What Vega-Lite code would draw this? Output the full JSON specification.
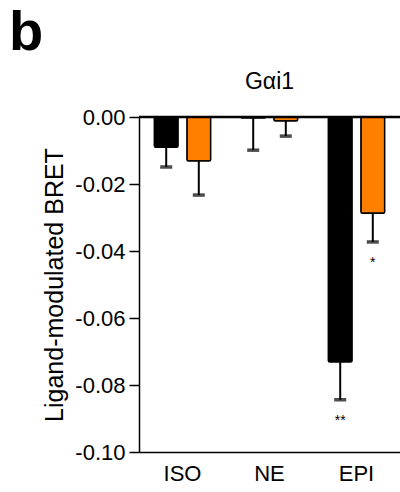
{
  "$schema": "https://vega.github.io/schema/vega-lite/v6.json",
  "background": "white",
  "padding": {"left": 9, "top": 5, "right": 0, "bottom": 0},
  "title": {"text": "b", "anchor": "start", "frame": "group", "fontSize": 56, "font": "Liberation Sans", "fontWeight": "bold", "color": "black", "offset": 9, "dx": -130},
  "config": {"view": {"stroke": null}, "font": "Liberation Sans", "concat": {"spacing": 0}},
  "vconcat": [
    {
      "width": 261,
      "height": 335,
      "title": {"text": "Gαi1", "fontSize": 23, "fontWeight": "normal", "font": "Liberation Sans", "color": "black", "offset": 12, "anchor": "middle"},
      "data": {"values": [
        {"group": "ISO", "series": "A", "value": -0.009, "err": -0.0149, "sig": ""},
        {"group": "ISO", "series": "B", "value": -0.0131, "err": -0.0233, "sig": ""},
        {"group": "NE", "series": "A", "value": -0.0003, "err": -0.0099, "sig": ""},
        {"group": "NE", "series": "B", "value": -0.0012, "err": -0.0057, "sig": ""},
        {"group": "EPI", "series": "A", "value": -0.0731, "err": -0.0844, "sig": "**"},
        {"group": "EPI", "series": "B", "value": -0.0287, "err": -0.0373, "sig": "*"}
      ]},
      "layer": [
        {
          "mark": {"type": "rule", "color": "black", "strokeWidth": 2},
          "encoding": {
            "x": {"field": "group", "type": "nominal", "sort": ["ISO", "NE", "EPI"], "scale": {"paddingInner": 0, "paddingOuter": 0},
              "axis": {"title": null, "labelAngle": 0, "labelFontSize": 22, "labelColor": "black", "labelPadding": 11, "ticks": false, "domainColor": "black", "domainWidth": 1.5, "labelFont": "Liberation Sans"}},
            "xOffset": {"field": "series", "type": "nominal", "sort": ["A", "B"], "scale": {"paddingInner": 0.27, "paddingOuter": 0.47}},
            "y": {"field": "value", "type": "quantitative", "scale": {"domain": [-0.1, 0], "nice": false, "zero": false},
              "axis": {"title": "Ligand-modulated BRET", "titleFontSize": 25, "titleFontWeight": "normal", "titleColor": "black", "titlePadding": 7, "titleFont": "Liberation Sans",
                "values": [0, -0.02, -0.04, -0.06, -0.08, -0.1], "labelExpr": "replace(format(datum.value, '.2f'), '\u2212', '-')",
                "labelFontSize": 22, "labelColor": "black", "labelPadding": 4, "labelFont": "Liberation Sans", "tickSize": 10, "tickWidth": 1.5, "tickColor": "black", "domainColor": "black", "domainWidth": 1.5, "grid": false}},
            "y2": {"field": "err"}
          }
        },
        {
          "mark": {"type": "bar", "stroke": "black", "strokeWidth": 1.5, "cornerRadius": 1.5},
          "encoding": {
            "x": {"field": "group", "type": "nominal", "sort": ["ISO", "NE", "EPI"]},
            "xOffset": {"field": "series", "type": "nominal", "sort": ["A", "B"]},
            "y": {"field": "value", "type": "quantitative"},
            "color": {"field": "series", "type": "nominal", "scale": {"domain": ["A", "B"], "range": ["#000000", "#FF8000"]}, "legend": null}
          }
        },
        {
          "mark": {"type": "tick", "color": "black", "size": 12, "thickness": 3.5, "orient": "horizontal"},
          "encoding": {
            "x": {"field": "group", "type": "nominal", "sort": ["ISO", "NE", "EPI"]},
            "xOffset": {"field": "series", "type": "nominal", "sort": ["A", "B"]},
            "y": {"field": "err", "type": "quantitative"}
          }
        },
        {
          "mark": {"type": "text", "color": "black", "fontSize": 14, "dy": 21, "baseline": "middle", "font": "Liberation Sans"},
          "encoding": {
            "x": {"field": "group", "type": "nominal", "sort": ["ISO", "NE", "EPI"]},
            "xOffset": {"field": "series", "type": "nominal", "sort": ["A", "B"]},
            "y": {"field": "err", "type": "quantitative"},
            "text": {"field": "sig"}
          }
        },
        {
          "data": {"values": [{"z": 0}]},
          "mark": {"type": "rule", "color": "black", "strokeWidth": 2.5},
          "encoding": {"y": {"field": "z", "type": "quantitative"}}
        }
      ]
    }
  ]
}
